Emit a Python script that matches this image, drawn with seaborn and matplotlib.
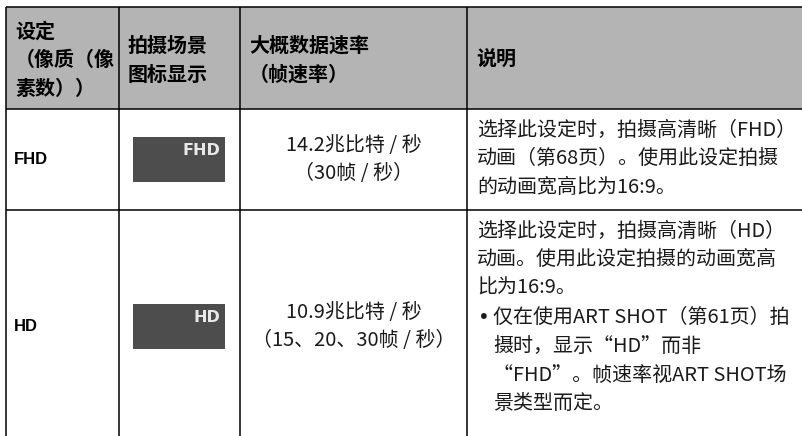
import matplotlib
matplotlib.use("Agg")
import matplotlib.pyplot as plt
from matplotlib.patches import Rectangle
import seaborn as sns

# table content
header_lines = [["设定", "（像质（像", "素数））"],
                ["拍摄场景", "图标显示"],
                ["大概数据速率", "（帧速率）"],
                ["说明"]]
settings = ["FHD", "HD"]
icon_labels = ["FHD", "HD"]
rates = [["14.2兆比特 / 秒", "（30帧 / 秒）"],
         ["10.9兆比特 / 秒", "（15、20、30帧 / 秒）"]]
descriptions = [
    ["选择此设定时，拍摄高清晰（FHD）",
     "动画（第68页）。使用此设定拍摄",
     "的动画宽高比为16:9。"],
    ["选择此设定时，拍摄高清晰（HD）",
     "动画。使用此设定拍摄的动画宽高",
     "比为16:9。",
     "•仅在使用ART SHOT（第61页）拍",
     "摄时，显示“HD”而非",
     "“FHD”。帧速率视ART SHOT场",
     "景类型而定。"],
]
bullet_start = [None, 3]

# layout (pixels)
W, H = 803, 436
col_edges = [6, 119, 240, 467, W + 2]
row_edges = [7.5, 109, 210, 442]
line_gap = 28.8
header_gap = 29
pad_x = 9
header_bg = "#b4b4b4"
icon_bg = "#4d4d4d"
text_col = "#1a1a1a"

sns.set_theme(style="white")
plt.rcParams["font.family"] = ["Noto Sans CJK SC", "DejaVu Sans"]

fig = plt.figure(figsize=(W / 100, H / 100), dpi=100)
ax = fig.add_axes([0, 0, 1, 1])
ax.set_xlim(0, W)
ax.set_ylim(H, 0)
ax.axis("off")

fs = 14.4  # ~20 px

# header background
ax.add_patch(Rectangle((col_edges[0], row_edges[0]), col_edges[-1] - col_edges[0],
                       row_edges[1] - row_edges[0], color=header_bg, lw=0, zorder=0))

# header text
hc = (row_edges[0] + row_edges[1]) / 2 + 1.5
for c, lines in enumerate(header_lines):
    n = len(lines)
    for i, t in enumerate(lines):
        y = hc + (i - (n - 1) / 2) * header_gap
        ax.text(col_edges[c] + pad_x, y, t, fontsize=fs, fontweight="bold",
                color="black", va="center", ha="left")

# body rows
for r in range(len(settings)):
    top, bot = row_edges[r + 1], row_edges[r + 2]
    yc = (top + bot) / 2
    ax.text(col_edges[0] + pad_x - 1, yc, settings[r], fontsize=12, fontweight="bold",
            family=["Liberation Sans", "DejaVu Sans"], color="black", va="center", ha="left")

    # scene icon
    iw, ih = 92, 45
    cx = (col_edges[1] + col_edges[2]) / 2
    ax.add_patch(Rectangle((cx - iw / 2, yc - ih / 2), iw, ih, color=icon_bg, lw=0, zorder=1))
    ax.text(cx + iw / 2 - 5, yc - ih / 2 + 13.5, icon_labels[r], fontsize=11.5,
            fontweight="bold", family=["DejaVu Sans"], color="#e8e8e8",
            va="center", ha="right", zorder=2)

    # data rate
    n = len(rates[r])
    rx = (col_edges[2] + col_edges[3]) / 2
    for i, t in enumerate(rates[r]):
        ax.text(rx, yc + (i - (n - 1) / 2) * 28, t, fontsize=fs, color=text_col,
                va="center", ha="center")

    # description
    dx = col_edges[3] + pad_x + 1
    for i, t in enumerate(descriptions[r]):
        y = top + 21 + i * line_gap
        b = bullet_start[r]
        if b is not None and i >= b:
            if t.startswith("•"):
                ax.text(dx + 1, y, "•", fontsize=fs, color=text_col, va="center", ha="left",
                        family=["DejaVu Sans"])
                t = t[1:]
            ax.text(dx + 16, y, t, fontsize=fs, color=text_col, va="center", ha="left")
        else:
            ax.text(dx, y, t, fontsize=fs, color=text_col, va="center", ha="left")

# grid lines
lw = 1.1
for y in row_edges[:-1]:
    ax.plot([col_edges[0], col_edges[-1]], [y, y], color="black", lw=lw, solid_capstyle="butt")
for x in col_edges[:-1]:
    ax.plot([x, x], [row_edges[0], row_edges[-1]], color="black", lw=lw, solid_capstyle="butt")

fig.savefig("out.png", dpi=100)
